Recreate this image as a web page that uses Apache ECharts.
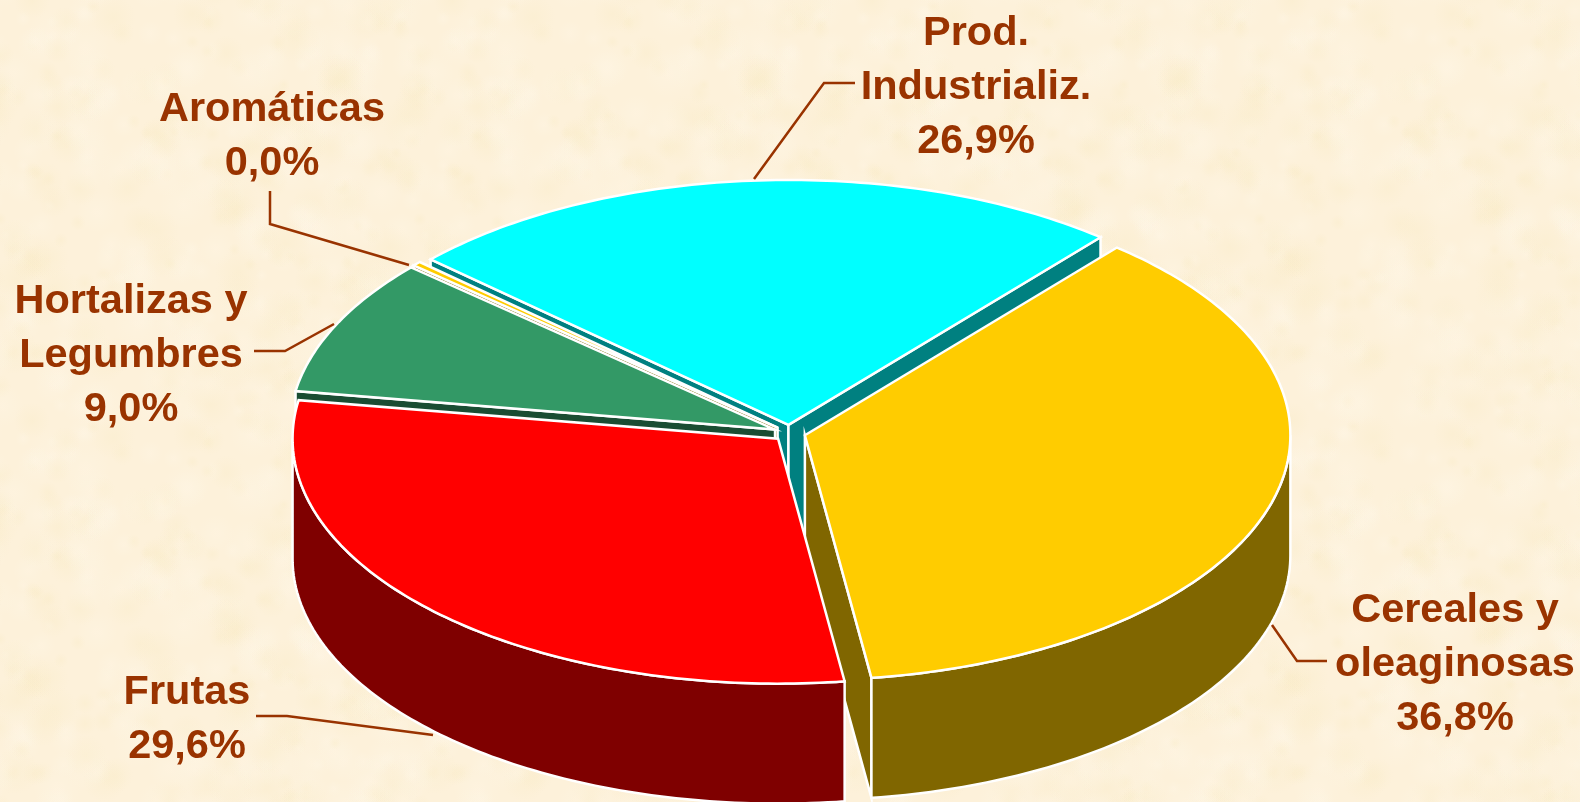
<!DOCTYPE html>
<html>
<head>
<meta charset="utf-8">
<style>html,body{margin:0;padding:0;overflow:hidden}#main{width:1580px;height:802px}</style>
<script src="https://cdn.jsdelivr.net/npm/echarts@6/dist/echarts.min.js"></script>
</head>
<body>
<div id="main"></div>
<script>
// categories, clockwise from the yellow slice
var names = ['Cereales y\noleaginosas', 'Frutas', 'Hortalizas y\nLegumbres', 'Aromáticas', 'Prod.\nIndustrializ.'];
// slice sizes
var sliceShares = [36.7, 29.7, 9.0, 0.3, 24.3];
// percentages as printed on the picture (they add up to 102,3, the cyan slice is drawn smaller than its label)
var printedPct = ['36,8%', '29,6%', '9,0%', '0,0%', '26,9%'];

var topColors = ['#ffcc00', '#ff0000', '#339966', '#ffcc00', '#00ffff'];
var wallColors = ['#806600', '#7f0000', '#1a4d33', '#806600', '#008080'];
// back to front, the front slices cover the walls of the others
var drawOrder = [4, 3, 2, 0, 1];

var pie = {cx: 789.5, cy: 433, rx: 485.5, ry: 245, depth: 120, explode: 16, startAngle: -50};
var labelSpots = [[1455, 665], [187, 720], [131, 356], [272, 137], [976, 88]];
var leaders = [
  [[1272, 625], [1297, 661], [1327, 661]],
  [[256, 716], [287, 716], [433, 735]],
  [[254, 351], [285, 351], [334, 324]],
  [[270, 191], [270, 224], [409, 265]],
  [[754, 179], [824, 83], [855, 83]]
];

function sliceAngles(i){
  var total = sliceShares.reduce(function(a, b){ return a + b; }, 0);
  var start = pie.startAngle;
  for (var k = 0; k < i; k++) start += sliceShares[k] / total * 360;
  return [start, start + sliceShares[i] / total * 360];
}

function point(center, deg, drop){
  var r = deg * Math.PI / 180;
  return [center[0] + pie.rx * Math.cos(r), center[1] + pie.ry * Math.sin(r) + (drop || 0)];
}

function arc(center, from, to, drop){
  var pts = [];
  for (var d = from; d < to; d += 1) pts.push(point(center, d, drop));
  pts.push(point(center, to, drop));
  return pts;
}

function face(points, fill){
  return {
    type: 'polygon',
    shape: {points: points},
    style: {fill: fill, stroke: '#fff', lineWidth: 2.5, lineJoin: 'miter'}
  };
}

function cosDeg(d){ return Math.cos(d * Math.PI / 180); }

function renderSlice(params){
  var i = drawOrder[params.dataIndex];
  var a = sliceAngles(i);
  var mid = (a[0] + a[1]) / 2 * Math.PI / 180;
  var c = [
    pie.cx + pie.explode * Math.cos(mid),
    pie.cy + pie.explode * Math.sin(mid) * pie.ry / pie.rx
  ];
  var apexLow = [c[0], c[1] + pie.depth];
  var children = [];
  // cut faces, only the ones turned to the viewer
  if (cosDeg(a[0]) < 0) children.push(face([c, point(c, a[0]), point(c, a[0], pie.depth), apexLow], wallColors[i]));
  if (cosDeg(a[1]) > 0) children.push(face([c, point(c, a[1]), point(c, a[1], pie.depth), apexLow], wallColors[i]));
  // outer wall, only the front half of the ellipse shows
  var from = Math.max(a[0], 0), to = Math.min(a[1], 180);
  if (to > from) {
    var low = arc(c, from, to, pie.depth).reverse();
    children.push(face(arc(c, from, to).concat(low), wallColors[i]));
  }
  children.push(face([c].concat(arc(c, a[0], a[1])), topColors[i]));
  return {type: 'group', children: children};
}

function renderLabel(params){
  var i = params.dataIndex;
  return {
    type: 'group',
    children: [{
      type: 'polyline',
      shape: {points: leaders[i]},
      style: {stroke: '#993300', lineWidth: 2.5, fill: null}
    }, {
      type: 'text',
      style: {
        text: names[i] + '\n' + printedPct[i],
        x: labelSpots[i][0],
        y: labelSpots[i][1],
        align: 'center',
        verticalAlign: 'middle',
        fill: '#993300',
        font: 'bold 41.5px "Liberation Sans"',
        lineHeight: 54
      }
    }]
  };
}

// parchment tile for the background
function parchment(){
  var size = 420, tile = document.createElement('canvas');
  tile.width = tile.height = size;
  var ctx = tile.getContext('2d');
  ctx.fillStyle = '#fdf1da';
  ctx.fillRect(0, 0, size, size);
  var seed = 7;
  function next(){ seed = (seed * 16807) % 2147483647; return seed / 2147483647; }
  for (var n = 0; n < 420; n++) {
    var x = next() * size, y = next() * size, r = 6 + next() * 20;
    var tint = next() < 0.5 ? '249,235,198' : '255,246,230';
    [-size, 0, size].forEach(function(ox){
      [-size, 0, size].forEach(function(oy){
        var g = ctx.createRadialGradient(x + ox, y + oy, 0, x + ox, y + oy, r);
        g.addColorStop(0, 'rgba(' + tint + ',0.35)');
        g.addColorStop(1, 'rgba(' + tint + ',0)');
        ctx.fillStyle = g;
        ctx.fillRect(x + ox - r, y + oy - r, r * 2, r * 2);
      });
    });
  }
  return tile;
}

var chart = echarts.init(document.getElementById('main'), null, {renderer: 'canvas'});
chart.setOption({
  animation: false,
  backgroundColor: {image: parchment(), repeat: 'repeat'},
  series: [{
    type: 'custom',
    coordinateSystem: 'none',
    silent: true,
    renderItem: renderSlice,
    data: drawOrder.map(function(i){ return sliceShares[i]; })
  }, {
    type: 'custom',
    coordinateSystem: 'none',
    silent: true,
    z: 5,
    renderItem: renderLabel,
    data: sliceShares
  }]
});
</script>
</body>
</html>
